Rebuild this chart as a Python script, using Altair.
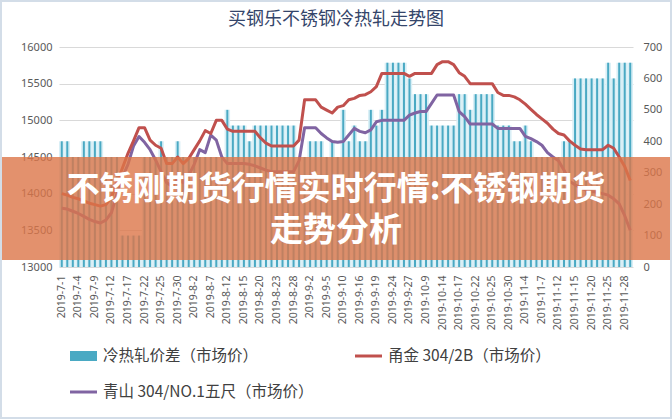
import altair as alt
import pandas as pd

dates = [
    "2019-7-1", "2019-7-2", "2019-7-3", "2019-7-4", "2019-7-5", "2019-7-8", "2019-7-9", "2019-7-10",
    "2019-7-11", "2019-7-12", "2019-7-15", "2019-7-16", "2019-7-17", "2019-7-18", "2019-7-19",
    "2019-7-22", "2019-7-23", "2019-7-24", "2019-7-25", "2019-7-26", "2019-7-29", "2019-7-30", "2019-7-31",
    "2019-8-1", "2019-8-2", "2019-8-5", "2019-8-6", "2019-8-7", "2019-8-8", "2019-8-9", "2019-8-12",
    "2019-8-13", "2019-8-14", "2019-8-15", "2019-8-16", "2019-8-19", "2019-8-20", "2019-8-21", "2019-8-22",
    "2019-8-23", "2019-8-26", "2019-8-27", "2019-8-28", "2019-8-29", "2019-8-30",
    "2019-9-2", "2019-9-3", "2019-9-4", "2019-9-5", "2019-9-6", "2019-9-9", "2019-9-10", "2019-9-11",
    "2019-9-12", "2019-9-16", "2019-9-17", "2019-9-18", "2019-9-19", "2019-9-20", "2019-9-23", "2019-9-24",
    "2019-9-25", "2019-9-26", "2019-9-27", "2019-9-30",
    "2019-10-8", "2019-10-9", "2019-10-10", "2019-10-11", "2019-10-14", "2019-10-15", "2019-10-16",
    "2019-10-17", "2019-10-18", "2019-10-21", "2019-10-22", "2019-10-23", "2019-10-24", "2019-10-25",
    "2019-10-28", "2019-10-29", "2019-10-30", "2019-10-31",
    "2019-11-1", "2019-11-4", "2019-11-5", "2019-11-6", "2019-11-7", "2019-11-8", "2019-11-11",
    "2019-11-12", "2019-11-13", "2019-11-14", "2019-11-15", "2019-11-18", "2019-11-19", "2019-11-20",
    "2019-11-21", "2019-11-22", "2019-11-25", "2019-11-26", "2019-11-27", "2019-11-28", "2019-11-29",
]

# 冷热轧价差（市场价） - right axis
spread = [
    400, 400, 350, 350, 400, 400, 400, 400, 350, 350,
    350, 100, 100, 100, 100, 350, 350, 350, 400, 350,
    350, 400, 350, 350, 350, 350, 350, 350, 350, 350,
    500, 450, 450, 450, 400, 450, 450, 450, 450, 450,
    450, 450, 450, 350, 350, 400, 400, 400, 350, 400,
    350, 500, 400, 450, 400, 400, 500, 450, 500, 650,
    650, 650, 650, 600, 550, 550, 550, 450, 450, 450,
    450, 450, 550, 550, 500, 550, 550, 550, 550, 450,
    450, 450, 400, 400, 450, 400, 350, 350, 350, 350,
    350, 400, 400, 600, 600, 600, 600, 600, 600, 650,
    600, 650, 650, 650,
]

# 甬金 304/2B（市场价） - left axis
yongjin = [
    14000, 13980, 13950, 13930, 13900, 13870, 13850, 13830, 13850, 13950,
    14150, 14350, 14550, 14720, 14900, 14900, 14730, 14660, 14620, 14410,
    14410, 14500, 14410, 14480, 14600, 14720, 14860, 14820, 15000, 15000,
    14880, 14850, 14850, 14850, 14850, 14850, 14760, 14690, 14650, 14650,
    14650, 14650, 14650, 14730, 15280, 15280, 15280, 15180, 15140, 15100,
    15180, 15200, 15280, 15300, 15340, 15350, 15390, 15460, 15640, 15640,
    15640, 15640, 15640, 15600, 15640, 15640, 15640, 15640, 15760, 15800,
    15800, 15760, 15650, 15600, 15500, 15500, 15500, 15500, 15500, 15380,
    15340, 15340, 15320, 15280, 15220, 15150, 15080, 15020, 14960, 14880,
    14820, 14800, 14720, 14660, 14610, 14600, 14600, 14600, 14600, 14660,
    14620, 14500, 14370, 14180,
]

# 青山 304/NO.1五尺（市场价） - left axis
qingshan = [
    13800, 13790, 13760, 13730, 13690, 13650, 13620, 13600, 13640, 13740,
    14000, 14230, 14400, 14650, 14780, 14700, 14600, 14460, 14300, 14150,
    14100, 14200, 14150, 14250, 14400, 14600, 14560, 14800, 14730, 14500,
    14410, 14410, 14410, 14410, 14400, 14380, 14350, 14320, 14300, 14300,
    14300, 14300, 14300, 14450, 14900, 14900, 14900, 14820, 14760, 14710,
    14700, 14710, 14800, 14890, 14850, 14830, 14870, 14980, 15000, 15000,
    15000, 15000, 15000, 15070, 15100, 15120, 15120, 15230, 15345, 15345,
    15345, 15345, 15120, 15050, 14950, 14950, 14950, 14950, 14950, 14890,
    14890, 14890, 14890, 14890, 14780, 14750, 14710, 14660, 14560, 14500,
    14450, 14320, 14170, 14120, 14080, 14050, 14030, 14020, 14000, 13980,
    13930, 13860, 13700, 13500,
]

left_ticks = [13000, 13500, 14000, 14500, 15000, 15500, 16000]
right_ticks = [0, 100, 200, 300, 400, 500, 600, 700]
label_dates = dates[::3]

title_text = "买钢乐不锈钢冷热轧走势图"
banner_lines = ["不锈刚期货行情实时行情:不锈钢期货", "走势分析"]
legend_bar = "冷热轧价差（市场价）"
legend_red = "甬金 304/2B（市场价）"
legend_purple = "青山 304/NO.1五尺（市场价）"

TEAL = "#4aa9c3"
LIGHT = "#d9eff6"
RED = "#c0504d"
PURPLE = "#8064a2"
LABEL = "#595959"
FONT = "Noto Sans CJK SC"

W, H = 574, 220

df = pd.DataFrame({"date": dates, "spread": spread, "yj": yongjin, "qs": qingshan})
one = pd.DataFrame({"k": [0]})

xenc = alt.X(
    "date:N", sort=dates, title=None,
    scale=alt.Scale(paddingInner=0, paddingOuter=0),
    axis=alt.Axis(values=label_dates, labelAngle=-90, labelFontSize=10.5, labelColor=LABEL,
                  labelFont="Noto Sans", ticks=False, domain=False, labelPadding=8,
                  grid=False, labelOverlap=False),
)

yright = alt.Y(
    "spread:Q", title=None,
    scale=alt.Scale(domain=[0, 700], nice=False),
    axis=alt.Axis(orient="right", values=right_ticks, grid=False, ticks=False, domain=False,
                  format="d", labelFontSize=11, labelColor=LABEL, labelFont="Noto Sans",
                  labelPadding=10),
)

light_bars = alt.Chart(df).mark_bar(color=LIGHT, width={"band": 1}).encode(x=xenc, y=yright)
dark_bars = alt.Chart(df).mark_bar(color=TEAL, size=2).encode(x=xenc, y=yright)
bars = alt.layer(light_bars, dark_bars)

yleft_axis = alt.Axis(orient="left", values=left_ticks, grid=True, gridColor="#d9d9d9",
                      ticks=False, domain=False, format="d", labelFontSize=11, labelColor=LABEL,
                      labelFont="Noto Sans", labelPadding=7)
yscale = alt.Scale(domain=[13000, 16000], nice=False)

red_line = alt.Chart(df).mark_line(color=RED, strokeWidth=3, strokeJoin="round").encode(
    x=xenc, y=alt.Y("yj:Q", title=None, scale=yscale, axis=yleft_axis))
purple_line = alt.Chart(df).mark_line(color=PURPLE, strokeWidth=3, strokeJoin="round").encode(
    x=xenc, y=alt.Y("qs:Q", title=None, scale=yscale, axis=yleft_axis))
lines = alt.layer(purple_line, red_line)

# decorations (pixel offsets relative to plot origin at 59,47)
overlay = alt.Chart(one).mark_rect(color="#dc7548", opacity=0.8).encode(
    x=alt.value(-59), x2=alt.value(613), y=alt.value(110), y2=alt.value(213))
banner = alt.Chart(one).mark_text(font=FONT, fontSize=33, fontWeight="bold", color="white",
                                  align="center", baseline="top", lineHeight=41).encode(
    x=alt.value(277), y=alt.value(127), text=alt.value(banner_lines))

title = alt.Chart(one).mark_text(font=FONT, fontSize=18, color="#34456a",
                                 align="center", baseline="middle").encode(
    x=alt.value(277), y=alt.value(-27), text=alt.value(title_text))

leg_sw_bar = alt.Chart(one).mark_rect(color=TEAL).encode(
    x=alt.value(11), x2=alt.value(38), y=alt.value(304), y2=alt.value(314))
leg_sw_red = alt.Chart(one).mark_rule(color=RED, strokeWidth=3).encode(
    x=alt.value(296), x2=alt.value(323), y=alt.value(309))
leg_sw_purple = alt.Chart(one).mark_rule(color=PURPLE, strokeWidth=3).encode(
    x=alt.value(11), x2=alt.value(38), y=alt.value(345))
leg_txt_style = dict(font=FONT, fontSize=15.5, color="#404040", align="left", baseline="middle")
leg_t1 = alt.Chart(one).mark_text(**leg_txt_style).encode(
    x=alt.value(44), y=alt.value(309), text=alt.value(legend_bar))
leg_t2 = alt.Chart(one).mark_text(**leg_txt_style).encode(
    x=alt.value(329), y=alt.value(309), text=alt.value(legend_red))
leg_t3 = alt.Chart(one).mark_text(**leg_txt_style).encode(
    x=alt.value(44), y=alt.value(345), text=alt.value(legend_purple))

border = alt.Chart(one).mark_rect(fillOpacity=0, stroke="#d3dde8", strokeWidth=2).encode(
    x=alt.value(-58), x2=alt.value(612), y=alt.value(-46), y2=alt.value(371))

chart = alt.layer(
    bars, lines, overlay, banner, title,
    leg_sw_bar, leg_sw_red, leg_sw_purple, leg_t1, leg_t2, leg_t3, border,
).resolve_scale(y="independent").properties(
    width=W, height=H,
    padding={"left": 59, "top": 47, "right": 39, "bottom": 152},
    autosize=alt.AutoSizeParams(type="none"),
    background="white",
).configure_view(stroke=None)

chart.save("out.html", embed_options={"renderer": "svg", "actions": False})
